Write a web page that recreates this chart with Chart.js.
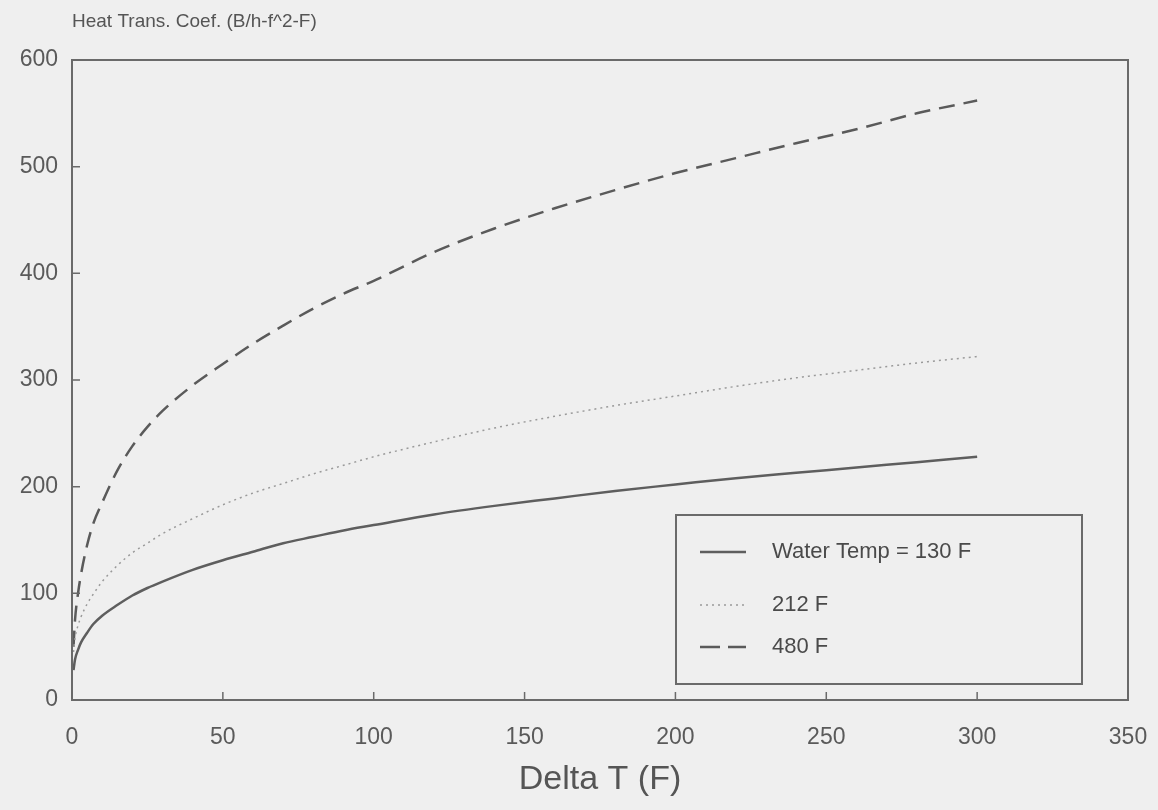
<!DOCTYPE html>
<html>
<head>
<meta charset="utf-8">
<script src="https://cdn.jsdelivr.net/npm/chart.js@4/dist/chart.umd.min.js"></script>
<style>
  html, body { margin: 0; padding: 0; background: #efefef; }
  #wrap { width: 1158px; height: 810px; }
</style>
</head>
<body>
<div id="wrap"><canvas id="myChart" width="1158" height="810"></canvas></div>
<script>
// values
const deltaT = [0.5, 1, 2, 3, 5, 7, 10, 15, 20, 25, 30, 40, 50, 60, 70, 80, 90, 100, 120, 140, 160, 180, 200, 220, 240, 260, 280, 300];
const h130 = [28, 38, 47, 54, 63, 71, 79, 89, 98, 105, 111, 122, 131, 139, 147, 153, 159, 164, 174, 182, 189, 196, 202, 208, 213, 218, 223, 228];
const h212 = [45, 58, 70, 78, 90, 99, 111, 126, 138, 147, 156, 170, 183, 194, 203, 212, 220, 228, 242, 255, 266, 276, 285, 294, 302, 309, 316, 322];
const h480 = [50, 75, 100, 118, 145, 165, 185, 215, 238, 256, 271, 295, 315, 334, 351, 367, 381, 393, 420, 442, 461, 478, 494, 508, 522, 535, 550, 562];
const seriesLabels = ["Water Temp = 130 F", "212 F", "480 F"];
const xTicks = [0, 50, 100, 150, 200, 250, 300, 350];
const yTicks = [0, 100, 200, 300, 400, 500, 600];
const yTitle = "Heat Trans. Coef. (B/h-f^2-F)";
const xTitle = "Delta T (F)";

const FONT = "'Liberation Sans', Arial, sans-serif";
const pts = (ys) => deltaT.map((x, i) => ({ x: x, y: ys[i] }));

const styles = [
	{ color: "#5e5e5e", width: 2.5, dash: [] },
	{ color: "#9a9a9a", width: 1.5, dash: [2, 4] },
	{ color: "#5a5a5a", width: 2.5, dash: [16, 9] },
];

const frame = {
	id: "frame",
	beforeDraw(chart) {
		const { ctx, width, height } = chart;
		ctx.save();
		ctx.fillStyle = "#efefef";
		ctx.fillRect(0, 0, width, height);
		ctx.restore();
	},
	afterDraw(chart) {
		const { ctx, chartArea: a, scales } = chart;
		ctx.save();
		ctx.strokeStyle = "#6a6a6a";
		ctx.lineWidth = 2;
		ctx.strokeRect(a.left, a.top, a.right - a.left, a.bottom - a.top);
		// inward tick marks
		ctx.lineWidth = 1.5;
		ctx.beginPath();
		xTicks.forEach((v) => {
			const px = scales.x.getPixelForValue(v);
			ctx.moveTo(px, a.bottom);
			ctx.lineTo(px, a.bottom - 8);
		});
		yTicks.forEach((v) => {
			const py = scales.y.getPixelForValue(v);
			ctx.moveTo(a.left, py);
			ctx.lineTo(a.left + 8, py);
		});
		ctx.stroke();

		// axis caption above plot
		ctx.fillStyle = "#555";
		ctx.font = "19px " + FONT;
		ctx.textBaseline = "middle";
		ctx.textAlign = "left";
		ctx.fillText(yTitle, a.left, 22);

		// legend box
		const bx = a.left + 604, by = 515, bw = 406, bh = 169;
		ctx.lineWidth = 2;
		ctx.strokeStyle = "#6a6a6a";
		ctx.strokeRect(bx, by, bw, bh);
		const rows = [552, 605, 647];
		seriesLabels.forEach((lab, i) => {
			const s = styles[i];
			ctx.beginPath();
			ctx.strokeStyle = s.color;
			ctx.lineWidth = s.width;
			ctx.setLineDash(i === 2 ? [20, 8] : s.dash);
			ctx.moveTo(bx + 24, rows[i]);
			ctx.lineTo(bx + 70, rows[i]);
			ctx.stroke();
			ctx.setLineDash([]);
			ctx.fillStyle = "#4a4a4a";
			ctx.font = "22px " + FONT;
			ctx.fillText(lab, bx + 96, rows[i]);
		});
		ctx.restore();
	},
};

const myChart = new Chart(document.getElementById("myChart"), {
	type: "line",
	data: {
		datasets: [h130, h212, h480].map((ys, i) => ({
			label: seriesLabels[i],
			data: pts(ys),
			borderColor: styles[i].color,
			borderWidth: styles[i].width,
			borderDash: styles[i].dash,
			pointRadius: 0,
			fill: false,
			cubicInterpolationMode: "monotone",
		})),
	},
	options: {
		responsive: false,
		animation: false,
		layout: { padding: { top: 60, right: 30, bottom: 10, left: 0 } },
		plugins: {
			legend: { display: false },
			tooltip: { enabled: false },
		},
		scales: {
			x: {
				type: "linear",
				min: 0,
				max: 350,
				grid: { display: false, drawTicks: false },
				border: { display: false },
				afterBuildTicks: (s) => { s.ticks = xTicks.map((v) => ({ value: v })); },
				afterFit: (s) => { s.height = 100; s.paddingLeft = 0; s.paddingRight = 0; },
				ticks: {
					padding: 24,
					maxRotation: 0,
					color: "#5a5a5a",
					font: { size: 23, family: FONT },
				},
				title: {
					display: true,
					text: xTitle,
					color: "#555",
					padding: 0,
					font: { size: 34, family: FONT },
				},
			},
			y: {
				min: 0,
				max: 600,
				grid: { display: false, drawTicks: false },
				border: { display: false },
				afterBuildTicks: (s) => { s.ticks = yTicks.map((v) => ({ value: v })); },
				afterFit: (s) => { s.width = 72; s.paddingTop = 0; s.paddingBottom = 0; },
				ticks: {
					padding: 14,
					color: "#5a5a5a",
					font: { size: 23, family: FONT },
				},
			},
		},
	},
	plugins: [frame],
});
</script>
</body>
</html>
